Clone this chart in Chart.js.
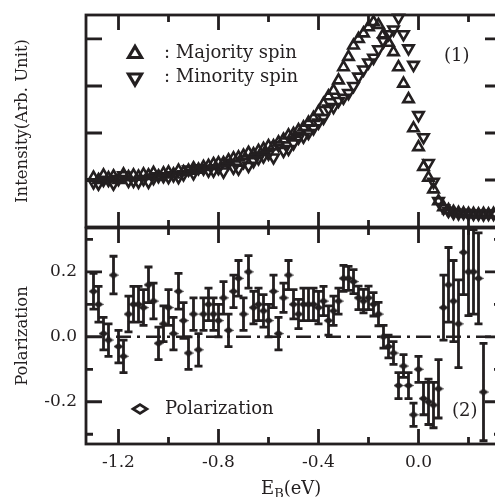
<!DOCTYPE html>
<html>
<head>
<meta charset="utf-8">
<script src="https://cdn.jsdelivr.net/npm/chart.js@4.4.1/dist/chart.umd.min.js"></script>
<style>
html, body { margin: 0; padding: 0; background: #fff; overflow: hidden; width: 495px; height: 497px; }
canvas { position: absolute; left: 0; top: 0; }
</style>
</head>
<body>
<canvas id="spin" width="520" height="497"></canvas>
<canvas id="pol" width="520" height="497"></canvas>
<script>
// binding energy (eV)
var energy = [-1.30, -1.28, -1.26, -1.24, -1.22, -1.20, -1.18, -1.16, -1.14, -1.12,
  -1.10, -1.08, -1.06, -1.04, -1.02, -1.00, -0.98, -0.96, -0.94, -0.92,
  -0.90, -0.88, -0.86, -0.84, -0.82, -0.80, -0.78, -0.76, -0.74, -0.72,
  -0.70, -0.68, -0.66, -0.64, -0.62, -0.60, -0.58, -0.56, -0.54, -0.52,
  -0.50, -0.48, -0.46, -0.44, -0.42, -0.40, -0.38, -0.36, -0.34, -0.32,
  -0.30, -0.28, -0.26, -0.24, -0.22, -0.20, -0.18, -0.16, -0.14, -0.12,
  -0.10, -0.08, -0.06, -0.04, -0.02, 0.00, 0.02, 0.04, 0.06, 0.08,
  0.10, 0.12, 0.14, 0.16, 0.18, 0.20, 0.22, 0.24, 0.26, 0.28, 0.30];

var majority = [1.05, 1.00, 1.10, 1.04, 1.08, 1.00, 1.12, 1.06, 1.10, 1.07,
  1.12, 1.10, 1.15, 1.08, 1.14, 1.16, 1.12, 1.20, 1.17, 1.20,
  1.25, 1.22, 1.28, 1.30, 1.34, 1.36, 1.36, 1.42, 1.46, 1.48,
  1.52, 1.58, 1.55, 1.62, 1.66, 1.72, 1.72, 1.80, 1.86, 1.95,
  1.98, 2.06, 2.12, 2.22, 2.32, 2.45, 2.62, 2.78, 2.90, 3.12,
  3.40, 3.62, 3.86, 4.00, 4.12, 4.25, 4.36, 4.30, 4.10, 3.92,
  3.72, 3.40, 3.05, 2.72, 2.10, 1.70, 1.28, 1.05, 0.80, 0.55,
  0.42, 0.36, 0.32, 0.30, 0.29, 0.28, 0.28, 0.27, 0.28, 0.27, 0.28];

var minority = [0.95, 0.92, 1.00, 1.00, 0.92, 1.02, 1.10, 0.98, 0.98, 0.96,
  1.02, 0.96, 1.04, 1.08, 1.08, 1.06, 1.10, 1.06, 1.12, 1.22,
  1.14, 1.25, 1.24, 1.20, 1.20, 1.25, 1.18, 1.36, 1.26, 1.24,
  1.38, 1.30, 1.40, 1.46, 1.50, 1.56, 1.48, 1.74, 1.62, 1.66,
  1.78, 1.90, 1.92, 2.00, 2.10, 2.22, 2.32, 2.52, 2.55, 2.68,
  2.75, 2.85, 3.00, 3.20, 3.35, 3.50, 3.60, 3.78, 3.95, 4.10,
  4.20, 4.45, 4.10, 3.80, 3.45, 2.38, 1.91, 1.36, 0.96, 0.55,
  0.40, 0.34, 0.30, 0.29, 0.30, 0.28, 0.28, 0.28, 0.27, 0.28, 0.28];

// polarization, first 79 energies
var polarization = [0.14, 0.10, 0.01, -0.01, 0.19, -0.03, -0.06, 0.07, 0.10, 0.10,
  0.09, 0.16, 0.11, -0.02, 0.04, 0.09, 0.01, 0.14, 0.05, -0.05,
  0.07, -0.04, 0.07, 0.10, 0.07, 0.05, 0.12, 0.02, 0.14, 0.18,
  0.07, 0.20, 0.09, 0.10, 0.08, 0.05, 0.14, 0.01, 0.12, 0.19,
  0.10, 0.07, 0.10, 0.10, 0.10, 0.09, 0.11, 0.05, 0.08, 0.11,
  0.18, 0.18, 0.17, 0.12, 0.11, 0.12, 0.10, 0.07, 0.00, -0.03,
  -0.05, -0.15, -0.09, -0.15, -0.24, -0.10, -0.19, -0.20, -0.21, -0.16,
  0.09, 0.16, 0.11, 0.04, 0.26, 0.20, 0.20, 0.18, -0.17];

var polError = [0.055, 0.055, 0.05, 0.05, 0.058, 0.05, 0.05, 0.055, 0.055, 0.055,
  0.055, 0.055, 0.055, 0.05, 0.055, 0.055, 0.05, 0.055, 0.055, 0.05,
  0.05, 0.05, 0.05, 0.05, 0.05, 0.05, 0.05, 0.05, 0.05, 0.055,
  0.05, 0.05, 0.05, 0.05, 0.05, 0.05, 0.05, 0.05, 0.045, 0.045,
  0.045, 0.045, 0.05, 0.05, 0.05, 0.05, 0.045, 0.045, 0.045, 0.04,
  0.04, 0.037, 0.037, 0.036, 0.036, 0.036, 0.036, 0.036, 0.035, 0.035,
  0.035, 0.04, 0.035, 0.04, 0.036, 0.04, 0.05, 0.07, 0.07, 0.09,
  0.10, 0.115, 0.125, 0.135, 0.13, 0.135, 0.13, 0.14, 0.15];

var xRange = [-1.33, 0.33];
var xTicks = [-1.2, -1.0, -0.8, -0.6, -0.4, -0.2, 0.0, 0.2];
var xTickLabels = ['-1.2', '', '-0.8', '', '-0.4', '', '0.0', ''];
var intensityRange = [0, 4.51];
var intensityTicks = [1, 2, 3, 4];
var polRange = [-0.33, 0.335];
var polTicks = [-0.3, -0.2, -0.1, 0.0, 0.1, 0.2, 0.3];
var polTickLabels = ['', '-0.2', '', '0.0', '', '0.2', ''];

var ink = '#231f20';
var serif = '"DejaVu Serif", serif';

function pts(xs, ys) {
  return ys.map(function (v, i) { return { x: xs[i], y: v }; });
}

// flattened filled diamond used for the polarization points
var diamond = document.createElement('canvas');
diamond.width = 10; diamond.height = 7;
(function () {
  var c = diamond.getContext('2d');
  c.fillStyle = ink;
  c.beginPath();
  c.moveTo(0, 3.5); c.lineTo(5, 0); c.lineTo(10, 3.5); c.lineTo(5, 7);
  c.closePath(); c.fill();
})();

// box with inward ticks on all four sides
function drawFrame(chart, yVals, yMajor) {
  var ctx = chart.ctx, a = chart.chartArea;
  var xs = chart.scales.x, ys = chart.scales.y;
  ctx.save();
  ctx.strokeStyle = ink;
  ctx.lineWidth = 2.8;
  ctx.strokeRect(a.left, a.top, a.right - a.left, a.bottom - a.top);
  ctx.beginPath();
  xTicks.forEach(function (v, i) {
    var px = xs.getPixelForValue(v);
    var len = xTickLabels[i] !== '' ? 15 : 7;
    ctx.moveTo(px, a.top); ctx.lineTo(px, a.top + len);
    ctx.moveTo(px, a.bottom); ctx.lineTo(px, a.bottom - len);
  });
  yVals.forEach(function (v, i) {
    var py = ys.getPixelForValue(v);
    var len = yMajor(i) ? 16 : 7;
    ctx.moveTo(a.left, py); ctx.lineTo(a.left + len, py);
    ctx.moveTo(a.right, py); ctx.lineTo(a.right - len, py);
  });
  ctx.stroke();
  ctx.restore();
}

var spinPlugin = {
  id: 'spinDeco',
  afterDatasetsDraw: function (chart) {
    drawFrame(chart, intensityTicks, function () { return true; });
    var ctx = chart.ctx;
    ctx.save();
    ctx.strokeStyle = ink;
    ctx.lineWidth = 3.2;
    ctx.lineJoin = 'miter';
    ctx.beginPath();
    ctx.moveTo(128.5, 57.5); ctx.lineTo(135, 46.5); ctx.lineTo(141.5, 57.5); ctx.closePath();
    ctx.stroke();
    ctx.beginPath();
    ctx.moveTo(128.5, 74); ctx.lineTo(141.5, 74); ctx.lineTo(135, 85); ctx.closePath();
    ctx.stroke();
    ctx.fillStyle = ink;
    ctx.font = '18px ' + serif;
    ctx.textBaseline = 'middle';
    ctx.fillText(': Majority spin', 164, 53);
    ctx.fillText(': Minority spin', 164, 77);
    ctx.fillText('(1)', 444, 56);
    ctx.restore();
  }
};

var polPlugin = {
  id: 'polDeco',
  beforeDatasetsDraw: function (chart) {
    var ctx = chart.ctx, a = chart.chartArea;
    var xs = chart.scales.x, ys = chart.scales.y;
    ctx.save();
    ctx.beginPath();
    ctx.rect(a.left, a.top, a.right - a.left, a.bottom - a.top);
    ctx.clip();
    ctx.strokeStyle = ink;
    ctx.lineWidth = 2.8;
    ctx.beginPath();
    polarization.forEach(function (p, i) {
      var px = xs.getPixelForValue(energy[i]);
      var hi = ys.getPixelForValue(p + polError[i]);
      var lo = ys.getPixelForValue(p - polError[i]);
      ctx.moveTo(px, hi); ctx.lineTo(px, lo);
      ctx.moveTo(px - 4, hi); ctx.lineTo(px + 4, hi);
      ctx.moveTo(px - 4, lo); ctx.lineTo(px + 4, lo);
    });
    ctx.stroke();
    ctx.restore();
  },
  afterDatasetsDraw: function (chart) {
    drawFrame(chart, polTicks, function (i) { return polTickLabels[i] !== ''; });
    var ctx = chart.ctx;
    ctx.save();
    ctx.strokeStyle = ink;
    ctx.lineWidth = 2.7;
    ctx.beginPath();
    ctx.moveTo(133, 409); ctx.lineTo(140, 404.5); ctx.lineTo(147, 409); ctx.lineTo(140, 413.5); ctx.closePath();
    ctx.stroke();
    ctx.fillStyle = ink;
    ctx.font = '18px ' + serif;
    ctx.textBaseline = 'middle';
    ctx.fillText('Polarization', 165, 409);
    ctx.fillText('(2)', 452, 411);
    // x axis title with subscript
    ctx.textBaseline = 'alphabetic';
    var x0 = 261, base = 494;
    ctx.fillText('E', x0, base);
    var w = ctx.measureText('E').width;
    ctx.font = '13px ' + serif;
    ctx.fillText('B', x0 + w, base + 4);
    w += ctx.measureText('B').width;
    ctx.font = '18px ' + serif;
    ctx.fillText('(eV)', x0 + w, base);
    ctx.restore();
  }
};

var tri = {
  pointRadius: 6,
  pointBorderWidth: 2.6,
  pointBorderColor: ink,
  pointBackgroundColor: 'rgba(0,0,0,0)',
  showLine: false,
  clip: false
};

new Chart(document.getElementById('spin'), {
  type: 'scatter',
  data: {
    datasets: [
      Object.assign({ label: 'Majority spin', data: pts(energy, majority), pointStyle: 'triangle', pointRotation: 0 }, tri),
      Object.assign({ label: 'Minority spin', data: pts(energy, minority), pointStyle: 'triangle', pointRotation: 180 }, tri)
    ]
  },
  options: {
    responsive: false,
    animation: false,
    events: [],
    layout: { padding: { top: 15, right: 19, bottom: 270, left: 0 } },
    plugins: { legend: { display: false }, tooltip: { enabled: false } },
    scales: {
      x: { type: 'linear', display: false, min: xRange[0], max: xRange[1] },
      y: {
        type: 'linear', min: intensityRange[0], max: intensityRange[1],
        grid: { display: false, drawTicks: false },
        border: { display: false },
        ticks: { display: false },
        title: { display: true, text: 'Intensity(Arb. Unit)', color: ink, font: { family: serif, size: 16.5 }, padding: { top: 13, bottom: 0 } },
        afterFit: function (s) { s.width = 86; }
      }
    }
  },
  plugins: [spinPlugin]
});

new Chart(document.getElementById('pol'), {
  type: 'scatter',
  data: {
    datasets: [
      {
        label: 'Polarization',
        data: pts(energy, polarization),
        pointStyle: diamond,
        showLine: false
      },
      {
        type: 'line',
        label: 'zero',
        data: [{ x: xRange[0], y: 0 }, { x: xRange[1], y: 0 }],
        borderColor: ink,
        borderWidth: 2.6,
        borderDash: [15, 6, 3, 6],
        pointRadius: 0
      }
    ]
  },
  options: {
    responsive: false,
    animation: false,
    events: [],
    layout: { padding: { top: 228, right: 19, bottom: 0, left: 0 } },
    plugins: { legend: { display: false }, tooltip: { enabled: false } },
    scales: {
      x: {
        type: 'linear', min: xRange[0], max: xRange[1],
        grid: { display: false, drawTicks: false },
        border: { display: false },
        afterBuildTicks: function (s) { s.ticks = xTicks.map(function (v) { return { value: v }; }); },
        ticks: {
          autoSkip: false, maxRotation: 0, padding: 8, color: ink,
          font: { family: serif, size: 17 },
          callback: function (v, i) { return xTickLabels[i]; }
        },
        afterFit: function (s) { s.height = 53; }
      },
      y: {
        type: 'linear', min: polRange[0], max: polRange[1],
        grid: { display: false, drawTicks: false },
        border: { display: false },
        afterBuildTicks: function (s) { s.ticks = polTicks.map(function (v) { return { value: v }; }); },
        ticks: {
          autoSkip: false, padding: 9, color: ink,
          font: { family: serif, size: 17 },
          callback: function (v, i) { return polTickLabels[i]; }
        },
        title: { display: true, text: 'Polarization', color: ink, font: { family: serif, size: 16.5 }, padding: { top: 13, bottom: 0 } },
        afterFit: function (s) { s.width = 86; }
      }
    }
  },
  plugins: [polPlugin]
});
</script>
</body>
</html>
